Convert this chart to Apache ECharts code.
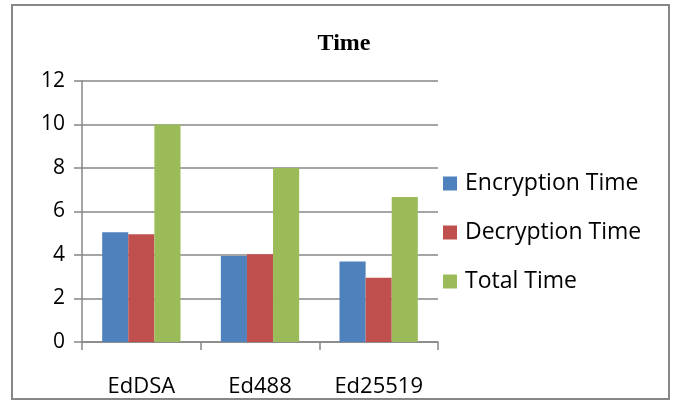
<!DOCTYPE html>
<html>
<head>
<meta charset="utf-8">
<script src="https://cdn.jsdelivr.net/npm/echarts@6/dist/echarts.min.js"></script>
<style>
  html, body { margin: 0; padding: 0; background: #fff; }
  #chart { width: 675px; height: 403px; }
</style>
</head>
<body>
<div id="chart"></div>
<script>
// Timing comparison of signature schemes
const categories = ['EdDSA', 'Ed488', 'Ed25519'];
const encryptionTime = [5.05, 3.95, 3.7];
const decryptionTime = [4.95, 4.03, 2.95];
const totalTime = [10.0, 8.0, 6.67];
const seriesNames = ['Encryption Time', 'Decryption Time', 'Total Time'];
const yTicks = { min: 0, max: 12, interval: 2 };

const FONT = 'Open Sans';
const GRAY = '#878787';

const chart = echarts.init(document.getElementById('chart'), null, { renderer: 'canvas' });

const barSeries = (name, data, color) => ({
  name: name,
  type: 'bar',
  data: data,
  barGap: '0%',
  barCategoryGap: '34%',
  itemStyle: { color: color },
  emphasis: { disabled: true }
});

chart.setOption({
  animation: false,
  backgroundColor: '#fff',
  title: {
    text: 'Time',
    left: 344,
    textAlign: 'center',
    top: 32,
    padding: 0,
    textStyle: { fontFamily: 'Liberation Serif', fontWeight: 'bold', fontSize: 24, color: '#000' }
  },
  graphic: [{
    type: 'rect',
    shape: { x: 12, y: 5, width: 657, height: 394 },
    style: { fill: 'none', stroke: GRAY, lineWidth: 2 },
    silent: true
  }],
  legend: {
    orient: 'vertical',
    left: 443,
    top: 172,
    padding: 0,
    itemWidth: 14,
    itemHeight: 14,
    itemGap: 26,
    icon: 'rect',
    textStyle: { fontFamily: FONT, fontSize: 23, color: '#000', padding: [0, 0, 0, 3] },
    data: seriesNames
  },
  grid: { left: 82, right: 237, top: 81, bottom: 61, containLabel: false },
  xAxis: {
    type: 'category',
    data: categories,
    axisLine: { lineStyle: { color: GRAY, width: 1.5 } },
    axisTick: { show: true, length: 8, lineStyle: { color: GRAY, width: 1.5 } },
    axisLabel: { fontFamily: FONT, fontSize: 22, color: '#000', margin: 34 }
  },
  yAxis: {
    type: 'value',
    min: yTicks.min,
    max: yTicks.max,
    interval: yTicks.interval,
    axisLine: { show: true, lineStyle: { color: GRAY, width: 1.5 } },
    axisTick: { show: true, length: 8, lineStyle: { color: GRAY, width: 1.5 } },
    splitLine: { lineStyle: { color: GRAY, width: 1.5 } },
    axisLabel: { fontFamily: FONT, fontSize: 21, color: '#000', margin: 17 }
  },
  series: [
    barSeries(seriesNames[0], encryptionTime, '#4f81bd'),
    barSeries(seriesNames[1], decryptionTime, '#c0504d'),
    barSeries(seriesNames[2], totalTime, '#9bbb59')
  ]
});
</script>
</body>
</html>
